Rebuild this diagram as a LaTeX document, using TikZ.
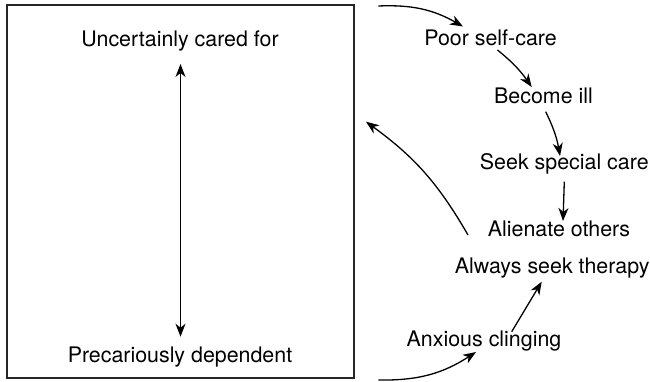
\documentclass[tikz,border=0pt]{standalone}
\usepackage{fontspec}
\setmainfont{TeX Gyre Heros}
\usetikzlibrary{arrows.meta}
\tikzset{
  lbl/.style={inner sep=0pt, anchor=base, font=\fontsize{21.4}{25}\selectfont},
  arr/.style={line width=1.3pt, -{Stealth[length=13pt,width=10pt,inset=4pt]}},
  twoway/.style={line width=1.3pt, {Stealth[length=13pt,width=10pt,inset=4pt]}-{Stealth[length=13pt,width=10pt,inset=4pt]}},
  frame/.style={draw=black!85, line width=1.3pt, minimum width=347pt, minimum height=373pt, inner sep=0pt}
}
\begin{document}
\begin{tikzpicture}[x=1pt,y=1pt]
  \useasboundingbox (0,0) rectangle (650,381);

  % left panel with its two poles
  \node[frame] (box) at (180.5,189.5) {};
  \node[lbl] (unc) at (180,334.3) {Uncertainly cared for};
  \node[lbl] (prec) at (180,18.3) {Precariously dependent};
  \draw[twoway] ([shift={(0.5,-17.3)}]unc.base) -- ([shift={(0.5,26)}]prec.base);

  % cycle on the right
  \node[lbl] (poor) at (490.5,335.3) {Poor self-care};
  \node[lbl] (ill) at (543.5,277.7) {Become ill};
  \node[lbl] (seek) at (564.3,211.7) {Seek special care};
  \node[lbl] (alien) at (559,144.3) {Alienate others};
  \node[lbl] (always) at (552.2,107.7) {Always seek therapy};
  \node[lbl] (anx) at (484,34.3) {Anxious clinging};

  \coordinate (topin) at (378.3,375);
  \coordinate (botin) at (378.3,1);
  \coordinate (back) at (366,259.3);

  \draw[arr] (topin) to[bend left=16] ([shift={(-27.5,19.2)}]poor.base);
  \draw[arr] ([shift={(7,-4.3)}]poor.base) to[bend left=8] ([shift={(-11.8,16.3)}]ill.base);
  \draw[arr] ([shift={(2.2,-8.4)}]ill.base) to[bend left=8] ([shift={(-4.3,13.3)}]seek.base);
  \draw[arr] ([shift={(0,-12.4)}]seek.base) -- ([shift={(4,15.7)}]alien.base);
  \draw[arr] ([shift={(-91,1.7)}]alien.base) to[bend right=12] (back);
  \draw[arr] ([shift={(27.7,15)}]anx.base) -- ([shift={(-10.5,-8.4)}]always.base);
  \draw[arr] (botin) to[bend right=17] ([shift={(-8,-5.3)}]anx.base);
\end{tikzpicture}
\end{document}
